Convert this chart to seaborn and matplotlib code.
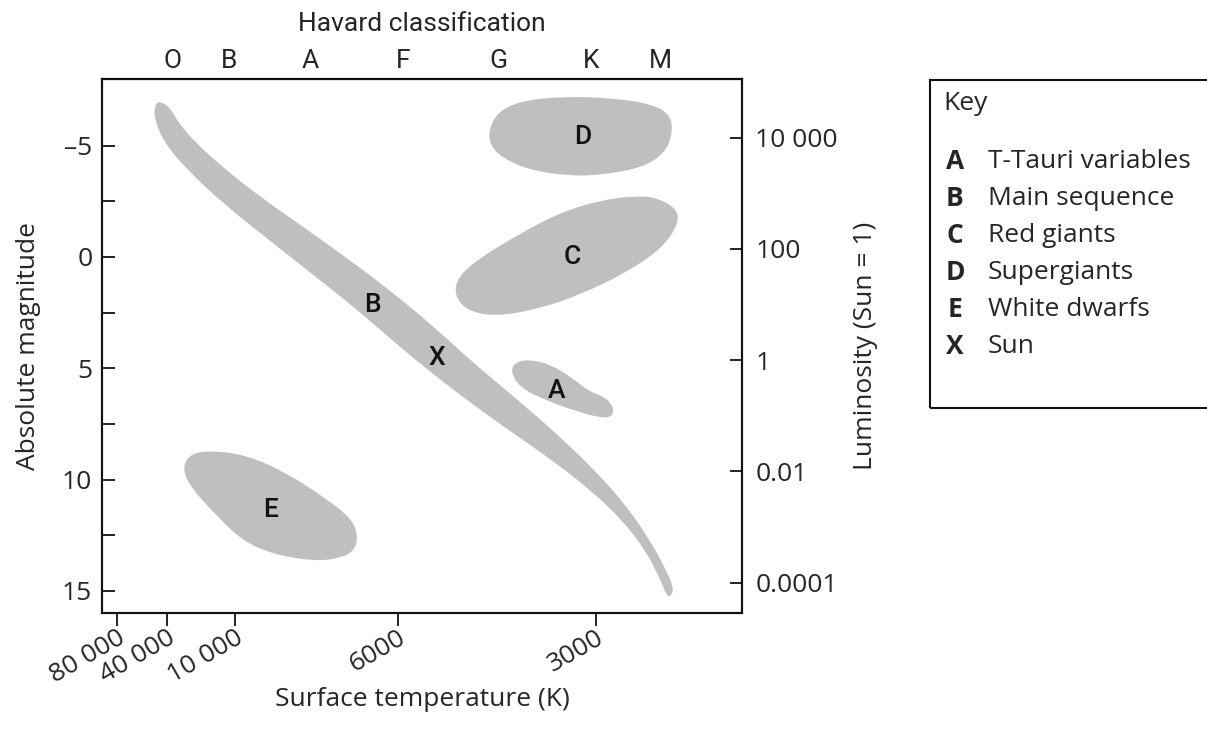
import numpy as np
import matplotlib
matplotlib.use("Agg")
import matplotlib.pyplot as plt
import seaborn as sns
from matplotlib.path import Path
from matplotlib.patches import PathPatch, Rectangle

# ---------------- data ----------------
temp_labels = ["80 000", "40 000", "10 000", "6000", "3000"]
temp_pos = [2.4, 10.2, 20.8, 46.2, 77.2]

spec_labels = ["O", "B", "A", "F", "G", "K", "M"]
spec_pos = [11.0, 19.8, 32.5, 47.0, 61.9, 76.4, 87.3]

mag_ticks = [-5, 0, 5, 10, 15]
mag_minor = [-2.5, 2.5, 7.5, 12.5]
mag_labels = ["\u20135", "0", "5", "10", "15"]

lum_values = [1e4, 1e2, 1.0, 1e-2, 1e-4]
lum_labels = ["10 000", "100", "1", "0.01", "0.0001"]
sun_abs_mag = 4.63

# region outlines (x: temperature-scale position 0-100, y: absolute magnitude)
ms_x = [8.94, 10.47, 11.94, 14.49, 18.64, 24.39, 31.41, 38.43, 45.45, 52.47, 57.57,
        64.59, 71.61, 77.36, 81.82, 85.65, 88.33, 89.35, 88.84,
        88.21, 87.25, 85.01, 81.18, 76.08, 70.33, 62.68, 55.02, 47.36, 39.70, 33.32,
        26.30, 19.28, 13.54, 9.71, 8.11, 8.30]
ms_y = [-7.00, -6.78, -6.04, -5.18, -4.09, -2.77, -1.36, 0.08, 1.60, 3.29, 4.65,
        6.33, 8.09, 9.70, 11.14, 12.74, 14.18, 14.90, 15.27,
        15.22, 14.50, 13.22, 11.78, 10.42, 9.13, 7.61, 6.01, 4.25, 2.32, 0.88,
        -0.72, -2.32, -3.85, -5.13, -6.25, -6.84]

sg_x = [60.44, 61.72, 65.23, 71.61, 79.27, 85.65, 88.84, 89.16, 87.88, 84.37,
        77.99, 72.88, 66.50, 62.36, 60.63]
sg_y = [-5.69, -6.49, -7.00, -7.21, -7.16, -6.89, -6.41, -5.53, -4.65, -4.01,
        -3.69, -3.64, -3.93, -4.49, -5.05]

rg_x = [55.02, 56.93, 61.40, 68.42, 74.80, 81.82, 87.56, 90.12, 89.80, 86.93,
        83.73, 77.99, 71.61, 65.23, 58.84, 55.65]
rg_y = [1.68, 2.40, 2.68, 2.32, 1.68, 0.72, -0.40, -1.52, -2.16, -2.64,
        -2.76, -2.56, -2.00, -1.04, 0.08, 0.88]

tt_x = [63.83, 64.59, 66.82, 70.33, 73.53, 76.08, 78.63, 80.03, 79.59, 77.67,
        74.17, 69.06, 65.23]
tt_y = [5.13, 4.73, 4.60, 4.86, 5.45, 6.04, 6.30, 6.78, 7.21, 7.21,
        6.94, 6.41, 5.85]

wd_x = [12.58, 13.54, 16.73, 22.47, 28.85, 35.23, 39.06, 40.02, 39.38, 37.15,
        33.32, 26.94, 21.83, 17.36, 13.85]
wd_y = [9.54, 8.89, 8.69, 8.89, 9.70, 10.90, 11.78, 12.58, 13.22, 13.54,
        13.67, 13.38, 12.74, 11.46, 10.34]

region_letters = ["D", "C", "B", "X", "A", "E"]
letter_x = [75.1, 73.4, 42.2, 52.3, 71.0, 26.4]
letter_y = [-5.4, 0.0, 2.15, 4.53, 6.0, 11.35]

key_codes = ["A", "B", "C", "D", "E", "X"]
key_names = ["T-Tauri variables", "Main sequence", "Red giants",
             "Supergiants", "White dwarfs", "Sun"]

# ---------------- style ----------------
sns.set_theme(style="white")
plt.rcParams["font.family"] = ["Open Sans", "DejaVu Sans"]
plt.rcParams["axes.edgecolor"] = "#111111"
plt.rcParams["axes.linewidth"] = 1.5

GRAY = "#bfbfbf"
FS = 19
COND = ["Roboto", "DejaVu Sans"]

W, H = 1207, 730
fig = plt.figure(figsize=(W / 100, H / 100), dpi=100)
ax = fig.add_axes([102 / W, 1 - 613 / H, 640 / W, 534 / H])
ax.set_xlim(0, 100)
ax.set_ylim(16, -8)


def smooth_closed(xs, ys):
    pts = np.column_stack([xs, ys])
    mids = (pts + np.roll(pts, -1, axis=0)) / 2
    verts = [mids[-1]]
    codes = [Path.MOVETO]
    for i in range(len(pts)):
        verts += [pts[i], mids[i]]
        codes += [Path.CURVE3, Path.CURVE3]
    return Path(verts, codes)


for xs, ys in [(ms_x, ms_y), (sg_x, sg_y), (rg_x, rg_y), (tt_x, tt_y), (wd_x, wd_y)]:
    ax.add_patch(PathPatch(smooth_closed(xs, ys), facecolor=GRAY, edgecolor="none",
                           zorder=1))

for lab, lx, ly in zip(region_letters, letter_x, letter_y):
    ax.text(lx, ly, lab, ha="center", va="center", fontsize=FS,
            fontweight="medium", family=COND, color="#111111", zorder=3)

# bottom axis: temperature
ax.set_xticks(temp_pos)
ax.set_xticklabels(temp_labels, rotation=30, ha="right", va="top",
                   rotation_mode="anchor", fontsize=FS)
ax.tick_params(axis="x", direction="out", length=9.5, width=1.3, pad=-0.5,
               color="#111111", bottom=True)
ax.set_xlabel("Surface temperature (K)", fontsize=FS)
ax.xaxis.label.set_va("center")
ax.xaxis.set_label_coords(0.5, (613 - 699) / 534)

# left axis: absolute magnitude
ax.set_yticks(mag_ticks)
ax.set_yticklabels(mag_labels, fontsize=FS)
ax.set_yticks(mag_minor, minor=True)
ax.tick_params(axis="y", which="both", direction="in", length=9, width=1.3,
               pad=7, color="#111111", left=True)
ax.set_ylabel("Absolute magnitude", fontsize=FS, labelpad=15)

# right axis: luminosity
ax2 = ax.twinx()
ax2.set_ylim(ax.get_ylim())
ax2.set_yticks([sun_abs_mag - 2.5 * np.log10(v) for v in lum_values])
ax2.set_yticklabels(lum_labels, fontsize=FS)
ax2.tick_params(axis="y", direction="in", length=9, width=1.3, pad=9.5,
                color="#111111", right=True)
ax2.set_ylabel("Luminosity (Sun = 1)", fontsize=FS, labelpad=11)

# top axis: Harvard classification
axt = ax.secondary_xaxis("top")
axt.set_xticks(spec_pos)
axt.set_xticklabels(spec_labels, fontsize=FS, family=COND)
axt.tick_params(axis="x", length=0, pad=4)
axt.set_xlabel("Havard classification", fontsize=FS, labelpad=13, family=COND)

# key box
fig.add_artist(Rectangle((930 / W, 1 - 408 / H), 400 / W, (408 - 80) / H,
                         transform=fig.transFigure, facecolor="none",
                         edgecolor="#111111", linewidth=1.5, clip_on=False))
fig.text(943 / W, 1 - 103 / H, "Key", fontsize=FS, va="center", ha="left")
for i, (c, n) in enumerate(zip(key_codes, key_names)):
    yy = 1 - (161.7 + 37.0 * i) / H
    fig.text(955 / W, yy, c, fontsize=FS, fontweight="bold", va="center", ha="center")
    fig.text(988 / W, yy, n, fontsize=FS, va="center", ha="left")

fig.savefig("out.png", dpi=100)
